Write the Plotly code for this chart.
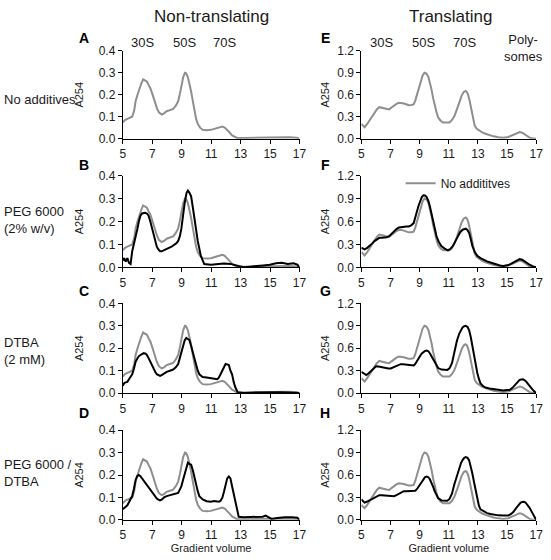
import plotly.graph_objects as go

W, H = 551, 560

# ---------------- Data ----------------
# Non-translating, no additives (grey reference curve, panels A-D)
nt_x = [5.0, 5.15, 5.31, 5.5, 5.64, 5.78, 5.87, 6.0, 6.09, 6.25, 6.38, 6.5, 6.64, 6.75, 6.87, 7.0, 7.09, 7.2, 7.31,
        7.45, 7.64, 7.8, 7.98, 8.2, 8.42, 8.6, 8.76, 8.88, 8.98, 9.1, 9.22, 9.3, 9.42, 9.54, 9.64, 9.76, 9.87, 9.98,
        10.09, 10.25, 10.42, 10.7, 10.98, 11.2, 11.42, 11.6, 11.76, 11.92, 12.09, 12.25, 12.42, 12.6, 12.76, 13.3,
        13.8, 14.3, 14.8, 15.3, 15.8, 16.3, 16.8, 17.0]
nt_none = [0.074, 0.085, 0.09, 0.095, 0.10, 0.13, 0.17, 0.20, 0.22, 0.25, 0.27, 0.265, 0.26, 0.245, 0.23, 0.205,
           0.185, 0.16, 0.14, 0.12, 0.11, 0.115, 0.125, 0.13, 0.135, 0.15, 0.17, 0.205, 0.245, 0.28, 0.30, 0.298,
           0.28, 0.25, 0.215, 0.17, 0.125, 0.09, 0.067, 0.05, 0.04, 0.038, 0.04, 0.045, 0.05, 0.053, 0.055, 0.05,
           0.04, 0.028, 0.015, 0.007, 0.003, 0.003, 0.004, 0.005, 0.004, 0.006, 0.005, 0.006, 0.004, 0.0]

# Non-translating, PEG 6000 (panel B)
b_x = [5.0, 5.1, 5.2, 5.31, 5.42, 5.53, 5.64, 5.76, 5.87, 6.0, 6.09, 6.2, 6.31, 6.5, 6.64, 6.75, 6.87, 6.98, 7.09,
       7.2, 7.31, 7.42, 7.53, 7.64, 7.8, 7.98, 8.2, 8.31, 8.53, 8.64, 8.76, 8.87, 8.98, 9.09, 9.2, 9.33, 9.42, 9.53,
       9.64, 9.76, 9.87, 9.98, 10.09, 10.3, 10.53, 10.98, 11.42, 11.87, 12.31, 12.76, 13.2, 13.64, 14.09, 14.53,
       14.98, 15.4, 15.8, 16.2, 16.6, 16.85, 17.0]
b_peg = [0.03, 0.04, 0.025, 0.04, 0.02, 0.015, 0.07, 0.10, 0.13, 0.17, 0.20, 0.225, 0.235, 0.238, 0.235, 0.225,
         0.20, 0.17, 0.14, 0.115, 0.09, 0.078, 0.07, 0.07, 0.075, 0.08, 0.085, 0.09, 0.1, 0.105, 0.115, 0.135,
         0.17, 0.23, 0.28, 0.325, 0.335, 0.325, 0.31, 0.26, 0.21, 0.16, 0.115, 0.05, 0.014, 0.011, 0.014, 0.017,
         0.015, 0.007, 0.0, 0.003, 0.004, 0.008, 0.011, 0.018, 0.02, 0.015, 0.018, 0.012, 0.0]

# Non-translating, DTBA (panel C)
c_x = [5.0, 5.1, 5.2, 5.31, 5.42, 5.53, 5.64, 5.76, 5.87, 6.0, 6.09, 6.25, 6.42, 6.55, 6.64, 6.76, 6.87, 6.98, 7.09,
       7.2, 7.31, 7.42, 7.53, 7.64, 7.76, 7.87, 7.98, 8.2, 8.42, 8.6, 8.76, 8.87, 8.98, 9.09, 9.2, 9.31, 9.42, 9.53,
       9.64, 9.76, 9.87, 9.98, 10.09, 10.2, 10.42, 10.7, 10.98, 11.2, 11.42, 11.53, 11.64, 11.76, 11.87, 11.98,
       12.09, 12.2, 12.31, 12.42, 12.53, 12.64, 12.8, 13.2, 13.7, 14.2, 14.7, 15.2, 15.7, 16.2, 16.7, 17.0]
c_dtba = [0.033, 0.045, 0.048, 0.05, 0.062, 0.075, 0.084, 0.11, 0.14, 0.155, 0.165, 0.172, 0.178, 0.176, 0.17,
          0.155, 0.14, 0.12, 0.105, 0.095, 0.084, 0.08, 0.077, 0.08, 0.085, 0.09, 0.095, 0.1, 0.105, 0.115, 0.13,
          0.156, 0.185, 0.214, 0.235, 0.246, 0.242, 0.236, 0.21, 0.178, 0.145, 0.12, 0.1, 0.084, 0.072, 0.07,
          0.068, 0.066, 0.062, 0.07, 0.084, 0.1, 0.116, 0.13, 0.128, 0.125, 0.1, 0.084, 0.05, 0.026, 0.004, 0.0,
          0.002, 0.003, 0.004, 0.003, 0.004, 0.003, 0.002, 0.0]

# Non-translating, PEG 6000 / DTBA (panel D)
d_x = [5.0, 5.1, 5.2, 5.31, 5.42, 5.53, 5.64, 5.76, 5.87, 5.98, 6.09, 6.2, 6.31, 6.42, 6.53, 6.64, 6.76, 6.87,
       6.98, 7.09, 7.2, 7.31, 7.42, 7.53, 7.64, 7.8, 7.98, 8.2, 8.42, 8.6, 8.76, 8.87, 8.98, 9.09, 9.2, 9.31,
       9.42, 9.53, 9.64, 9.76, 9.87, 9.98, 10.09, 10.2, 10.42, 10.7, 10.98, 11.2, 11.42, 11.53, 11.64, 11.76,
       11.87, 11.98, 12.09, 12.2, 12.31, 12.42, 12.53, 12.64, 12.76, 12.87, 13.2, 13.7, 14.2, 14.5, 14.7, 14.85,
       15.1, 15.5, 16.0, 16.5, 16.85, 17.0]
d_pegdtba = [0.048, 0.052, 0.058, 0.065, 0.077, 0.09, 0.106, 0.14, 0.178, 0.195, 0.20, 0.195, 0.185, 0.175,
             0.165, 0.157, 0.145, 0.135, 0.128, 0.115, 0.106, 0.095, 0.09, 0.087, 0.09, 0.1, 0.106, 0.11,
             0.113, 0.118, 0.12, 0.135, 0.15, 0.178, 0.207, 0.235, 0.255, 0.25, 0.246, 0.22, 0.185, 0.155, 0.128,
             0.105, 0.091, 0.083, 0.081, 0.084, 0.084, 0.081, 0.085, 0.099, 0.125, 0.15, 0.185, 0.193, 0.185,
             0.15, 0.113, 0.075, 0.04, 0.014, 0.012, 0.012, 0.012, 0.014, 0.019, 0.012, 0.004, 0.008, 0.012,
             0.012, 0.01, 0.0]

# Translating, no additives (grey reference curve, panels E-H)
t_x = [5.0, 5.11, 5.22, 5.4, 5.56, 5.73, 5.9, 6.06, 6.23, 6.4, 6.57, 6.74, 6.91, 7.07, 7.24, 7.41, 7.58, 7.75,
       7.91, 8.08, 8.25, 8.42, 8.59, 8.7, 8.81, 8.93, 9.04, 9.2, 9.33, 9.47, 9.6, 9.71, 9.82, 9.93, 10.04, 10.16,
       10.27, 10.44, 10.61, 10.83, 11.05, 11.22, 11.39, 11.56, 11.73, 11.88, 12.02, 12.15, 12.24, 12.33, 12.45,
       12.56, 12.67, 12.78, 12.92, 13.07, 13.3, 13.52, 13.8, 14.08, 14.4, 14.75, 15.09, 15.26, 15.43, 15.65,
       15.87, 16.04, 16.21, 16.38, 16.55, 16.72, 16.88, 17.0]
t_none = [0.2, 0.17, 0.156, 0.2, 0.245, 0.3, 0.356, 0.4, 0.43, 0.425, 0.413, 0.405, 0.40, 0.425, 0.453, 0.475,
          0.49, 0.49, 0.48, 0.47, 0.458, 0.46, 0.467, 0.52, 0.60, 0.70, 0.78, 0.86, 0.90, 0.89, 0.845, 0.77,
          0.667, 0.55, 0.444, 0.36, 0.29, 0.245, 0.222, 0.218, 0.222, 0.255, 0.31, 0.4, 0.51, 0.585, 0.636,
          0.653, 0.64, 0.60, 0.5, 0.378, 0.27, 0.178, 0.135, 0.111, 0.085, 0.067, 0.045, 0.031, 0.02, 0.013,
          0.022, 0.035, 0.053, 0.075, 0.089, 0.08, 0.058, 0.035, 0.013, 0.004, 0.0, 0.0]

# Translating, PEG 6000 (panel F)
f_x = [5.0, 5.11, 5.22, 5.4, 5.56, 5.73, 5.9, 6.06, 6.23, 6.4, 6.57, 6.74, 6.91, 7.07, 7.24, 7.41, 7.58, 7.75,
       7.91, 8.08, 8.25, 8.42, 8.59, 8.7, 8.81, 8.93, 9.04, 9.15, 9.26, 9.37, 9.48, 9.6, 9.71, 9.82, 9.93, 10.04,
       10.16, 10.32, 10.49, 10.72, 10.94, 11.11, 11.28, 11.45, 11.61, 11.78, 11.95, 12.06, 12.17, 12.28, 12.4,
       12.51, 12.62, 12.79, 12.96, 13.18, 13.41, 13.63, 13.86, 14.08, 14.3, 14.52, 14.75, 14.92, 15.09, 15.26,
       15.43, 15.65, 15.87, 16.04, 16.21, 16.38, 16.55, 16.78, 17.0]
f_peg = [0.257, 0.245, 0.236, 0.255, 0.279, 0.31, 0.343, 0.37, 0.386, 0.386, 0.386, 0.395, 0.407, 0.44, 0.471,
         0.5, 0.523, 0.53, 0.536, 0.536, 0.536, 0.55, 0.579, 0.64, 0.729, 0.81, 0.879, 0.92, 0.943, 0.94,
         0.921, 0.87, 0.793, 0.69, 0.579, 0.49, 0.407, 0.33, 0.279, 0.245, 0.223, 0.24, 0.279, 0.34, 0.407, 0.46,
         0.493, 0.503, 0.506, 0.49, 0.45, 0.37, 0.279, 0.2, 0.15, 0.12, 0.094, 0.078, 0.064, 0.05, 0.034, 0.025,
         0.017, 0.02, 0.03, 0.045, 0.064, 0.088, 0.107, 0.1, 0.077, 0.055, 0.034, 0.012, 0.0]

# Translating, DTBA (panel G)
g_x = [5.0, 5.17, 5.34, 5.5, 5.67, 5.84, 6.01, 6.18, 6.35, 6.51, 6.68, 6.85, 7.02, 7.18, 7.35, 7.52, 7.69, 7.86,
       8.03, 8.25, 8.48, 8.6, 8.7, 8.81, 8.92, 9.04, 9.15, 9.26, 9.37, 9.49, 9.6, 9.71, 9.82, 9.93, 10.04, 10.16,
       10.27, 10.5, 10.72, 10.9, 11.05, 11.22, 11.39, 11.56, 11.73, 11.84, 11.95, 12.06, 12.17, 12.29, 12.4,
       12.51, 12.62, 12.74, 12.85, 12.96, 13.07, 13.18, 13.35, 13.52, 13.8, 14.08, 14.4, 14.75, 14.98, 15.2,
       15.37, 15.54, 15.7, 15.87, 15.98, 16.1, 16.21, 16.32, 16.49, 16.66, 16.83, 17.0]
g_dtba = [0.286, 0.26, 0.242, 0.265, 0.295, 0.33, 0.36, 0.356, 0.347, 0.338, 0.33, 0.33, 0.33, 0.345, 0.36,
          0.375, 0.387, 0.385, 0.382, 0.372, 0.365, 0.37, 0.39, 0.42, 0.46, 0.50, 0.53, 0.55, 0.565, 0.568,
          0.56, 0.53, 0.49, 0.44, 0.40, 0.36, 0.335, 0.315, 0.308, 0.31, 0.33, 0.4, 0.55, 0.7, 0.8, 0.85, 0.88,
          0.895, 0.9, 0.885, 0.84, 0.75, 0.63, 0.5, 0.37, 0.27, 0.19, 0.13, 0.095, 0.075, 0.062, 0.053, 0.043,
          0.035, 0.04, 0.044, 0.07, 0.11, 0.145, 0.176, 0.183, 0.185, 0.172, 0.154, 0.11, 0.066, 0.03, 0.0]

# Translating, PEG 6000 / DTBA (panel H)
h_x = [5.0, 5.11, 5.22, 5.4, 5.56, 5.73, 5.9, 6.06, 6.23, 6.4, 6.57, 6.74, 6.91, 7.07, 7.24, 7.41, 7.58, 7.75,
       7.91, 8.08, 8.25, 8.48, 8.7, 8.81, 8.92, 9.04, 9.15, 9.26, 9.37, 9.49, 9.6, 9.71, 9.82, 9.93, 10.04,
       10.16, 10.27, 10.5, 10.72, 10.9, 11.05, 11.22, 11.39, 11.56, 11.73, 11.84, 11.95, 12.06, 12.17, 12.29,
       12.4, 12.51, 12.62, 12.74, 12.85, 12.96, 13.07, 13.18, 13.41, 13.63, 13.86, 14.08, 14.4, 14.75, 15.09,
       15.26, 15.43, 15.6, 15.76, 15.92, 16.04, 16.15, 16.27, 16.38, 16.55, 16.72, 16.88, 17.0]
h_pegdtba = [0.274, 0.25, 0.23, 0.245, 0.26, 0.278, 0.296, 0.312, 0.33, 0.328, 0.326, 0.32, 0.317, 0.317,
             0.317, 0.33, 0.348, 0.365, 0.383, 0.383, 0.383, 0.385, 0.39, 0.41, 0.44, 0.48, 0.52, 0.55, 0.572,
             0.578, 0.57, 0.54, 0.5, 0.44, 0.38, 0.33, 0.29, 0.26, 0.252, 0.255, 0.28, 0.35, 0.48, 0.6, 0.7,
             0.76, 0.8, 0.83, 0.839, 0.83, 0.796, 0.72, 0.62, 0.5, 0.38, 0.27, 0.19, 0.14, 0.11, 0.09, 0.078,
             0.07, 0.06, 0.057, 0.058, 0.075, 0.105, 0.15, 0.195, 0.228, 0.24, 0.243, 0.232, 0.209, 0.16, 0.1,
             0.04, 0.0]

x_ticks = [5, 7, 9, 11, 13, 15, 17]
left_ticks = [0.0, 0.1, 0.2, 0.3, 0.4]
right_ticks = [0.0, 0.3, 0.6, 0.9, 1.2]

panel_letters = ["A", "B", "C", "D", "E", "F", "G", "H"]
row_labels = ["No additives", "PEG 6000<br>(2% w/v)", "DTBA<br>(2 mM)", "PEG 6000 /<br>DTBA"]
col_titles = ["Non-translating", "Translating"]
left_peaks = ["30S", "50S", "70S"]
right_peaks = ["30S", "50S", "70S", "Poly-<br>somes"]
legend_label = "No addititves"

# ---------------- Layout geometry (pixels) ----------------
col_px = [(122, 302), (365, 543)]
row_px = [(45, 135), (173, 267), (304, 396), (434, 526)]
letter_y = [32, 162, 291, 416]
row_label_y = [95, 218, 353, 478]

GREY = "#8e8e8e"
BLACK = "#000000"
FONT = "Arial, Liberation Sans, sans-serif"
TXT = "#1a1a1a"

def px_x(p):
    return p / W

def px_y(p):
    return 1 - p / H

fig = go.Figure()

nt_black = [None, (b_x, b_peg), (c_x, c_dtba), (d_x, d_pegdtba)]
t_black = [None, (f_x, f_peg), (g_x, g_dtba), (h_x, h_pegdtba)]

layout = {}
ann = []
idx = 0
for col in range(2):
    for row in range(4):
        idx += 1
        xa = "x" if idx == 1 else f"x{idx}"
        ya = "y" if idx == 1 else f"y{idx}"
        grey = (nt_x, nt_none) if col == 0 else (t_x, t_none)
        black = nt_black[row] if col == 0 else t_black[row]
        fig.add_trace(go.Scatter(x=grey[0], y=grey[1], mode="lines", xaxis=xa, yaxis=ya,
                                 line=dict(color=GREY, width=2), name=legend_label,
                                 showlegend=(col == 1 and row == 1), hoverinfo="skip"))
        if black is not None:
            fig.add_trace(go.Scatter(x=black[0], y=black[1], mode="lines", xaxis=xa, yaxis=ya,
                                     line=dict(color=BLACK, width=2), showlegend=False, hoverinfo="skip"))
        x0, x1 = col_px[col]
        y0, y1 = row_px[row]
        xkey = "xaxis" if idx == 1 else f"xaxis{idx}"
        ykey = "yaxis" if idx == 1 else f"yaxis{idx}"
        layout[xkey] = dict(domain=[px_x(x0), px_x(x1)], range=[5, 17], tickvals=x_ticks,
                            ticks="outside", ticklen=4, tickcolor="black", showline=True,
                            linecolor="black", linewidth=1, showgrid=False, zeroline=False,
                            anchor=ya, tickfont=dict(family=FONT, size=12, color=TXT))
        if row == 3:
            layout[xkey]["title"] = dict(text="Gradient volume", font=dict(family=FONT, size=11, color=TXT),
                                         standoff=2)
        yt = left_ticks if col == 0 else right_ticks
        layout[ykey] = dict(domain=[px_y(y1), px_y(y0)], range=[0, yt[-1]], tickvals=yt,
                            tickformat=".1f", ticks="outside", ticklen=4, tickcolor="black",
                            showline=True, linecolor="black", linewidth=1, showgrid=False,
                            zeroline=False, anchor=xa, tickfont=dict(family=FONT, size=12, color=TXT),
                            title=dict(text="A254", font=dict(family=FONT, size=11, color=TXT),
                                       standoff=12 if col == 0 else 5))
        lx = 83 if col == 0 else 328
        ann.append(dict(text=f"<b>{panel_letters[idx - 1]}</b>", x=px_x(lx), y=px_y(letter_y[row]),
                        xref="paper", yref="paper", showarrow=False, xanchor="center", yanchor="middle",
                        font=dict(family=FONT, size=14, color="black")))

# column titles
for t, cx in zip(col_titles, [212, 456]):
    ann.append(dict(text=t, x=px_x(cx), y=px_y(10), xref="paper", yref="paper", showarrow=False,
                    xanchor="center", yanchor="middle", font=dict(family=FONT, size=17, color=TXT)))

# peak labels
for t, cx in zip(left_peaks, [142, 185, 226]):
    ann.append(dict(text=t, x=px_x(cx), y=px_y(36), xref="paper", yref="paper", showarrow=False,
                    xanchor="center", yanchor="middle", font=dict(family=FONT, size=13, color=TXT)))
for t, cx, cy in zip(right_peaks, [385, 428, 470, 530], [36, 36, 36, 42]):
    ann.append(dict(text=t, x=px_x(cx), y=px_y(cy), xref="paper", yref="paper", showarrow=False,
                    xanchor="center", yanchor="middle", font=dict(family=FONT, size=13, color=TXT)))

# row labels
for t, yy in zip(row_labels, row_label_y):
    ann.append(dict(text=t, x=px_x(-1), y=px_y(yy), xref="paper", yref="paper", showarrow=False,
                    xanchor="left", yanchor="middle", align="left",
                    font=dict(family=FONT, size=13, color=TXT)))

fig.update_layout(
    width=W, height=H, margin=dict(l=0, r=0, t=0, b=0),
    paper_bgcolor="white", plot_bgcolor="white",
    annotations=ann,
    showlegend=True,
    legend=dict(x=px_x(405), y=px_y(166), xanchor="left", yanchor="top", bgcolor="rgba(0,0,0,0)",
                font=dict(family=FONT, size=12, color=TXT), itemwidth=30, borderwidth=0,
                tracegroupgap=0),
    **layout,
)

fig.write_html("out.html", config={"displayModeBar": False},
               post_script="document.body.style.margin='0px';document.body.style.overflow='hidden';")
